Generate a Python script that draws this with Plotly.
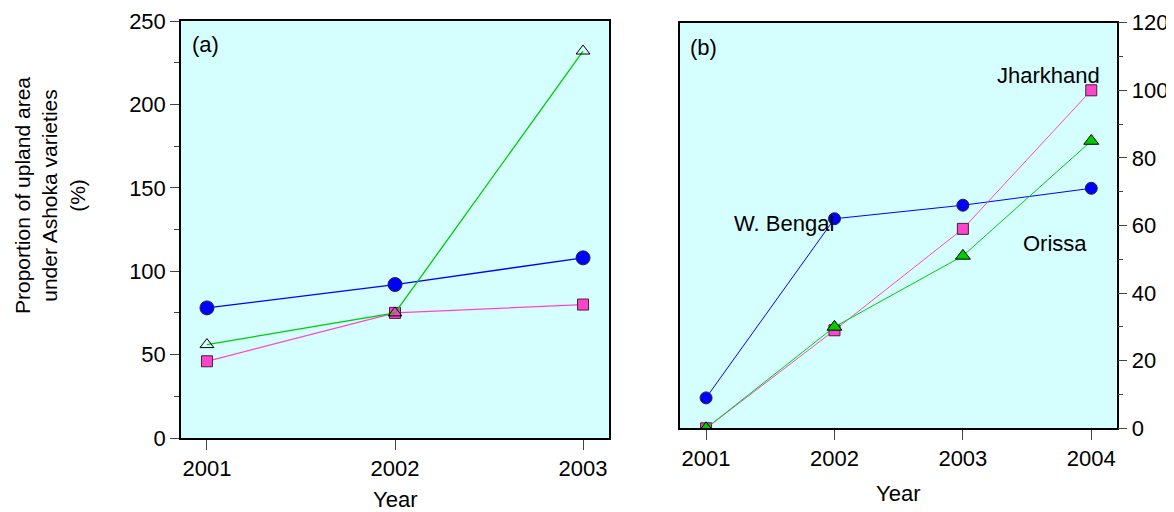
import plotly.graph_objects as go

# ---- data ----
years_a = [2001, 2002, 2003]
a_wbengal = [78, 92, 108]
a_jharkhand = [46, 75, 80]
a_orissa = [56, 75, 232]

years_b = [2001, 2002, 2003, 2004]
b_wbengal = [9, 62, 66, 71]
b_jharkhand = [0, 29, 59, 100]
b_orissa = [0, 30, 51, 85]

# page has an 8px body margin: figure sits at (8, 8)
OFF = 8
W, H = 1174 - OFF, 512 - OFF
FONT = "Liberation Sans, Arial, sans-serif"
BLUE = "#0000FF"
PINK = "#FF44CC"
GREEN = "#00CC00"
BG = "#D5FFFF"

def px_x(v):
    return (v - OFF) / W

def px_y(v):
    return 1 - (v - OFF) / H

fig = go.Figure()

# panel (a)
fig.add_trace(go.Scatter(x=years_a, y=a_wbengal, mode="lines+markers", xaxis="x", yaxis="y",
                         line=dict(color=BLUE, width=1.3),
                         marker=dict(symbol="circle", size=14, color=BLUE, line=dict(color="#222244", width=1))))
fig.add_trace(go.Scatter(x=years_a, y=a_jharkhand, mode="lines+markers", xaxis="x", yaxis="y",
                         line=dict(color=PINK, width=1.3),
                         marker=dict(symbol="square", size=11, color=PINK, line=dict(color="#442233", width=1))))
fig.add_trace(go.Scatter(x=years_a, y=a_orissa, mode="lines+markers", xaxis="x", yaxis="y",
                         line=dict(color=GREEN, width=1.3),
                         marker=dict(symbol="triangle-up-open", size=12, color="black", line=dict(color="black", width=1))))

# panel (b)
fig.add_trace(go.Scatter(x=years_b, y=b_wbengal, mode="lines+markers", xaxis="x2", yaxis="y2",
                         line=dict(color=BLUE, width=1),
                         marker=dict(symbol="circle", size=12, color=BLUE, line=dict(color="#222244", width=1))))
fig.add_trace(go.Scatter(x=years_b, y=b_jharkhand, mode="lines+markers", xaxis="x2", yaxis="y2",
                         line=dict(color=PINK, width=1),
                         marker=dict(symbol="square", size=11, color=PINK, line=dict(color="#442233", width=1))))
fig.add_trace(go.Scatter(x=years_b, y=b_orissa, mode="lines+markers", xaxis="x2", yaxis="y2",
                         line=dict(color=GREEN, width=1),
                         marker=dict(symbol="triangle-up", size=13, color=GREEN, line=dict(color="black", width=1))))

tickfont = dict(family=FONT, size=22, color="black")

common = dict(showline=True, linecolor="black", linewidth=1.5, mirror=True,
              showgrid=False, zeroline=False, tickfont=tickfont, automargin=False,
              ticks="outside", tickcolor="#444")

fig.update_layout(
    width=W, height=H,
    margin=dict(l=0, r=0, t=0, b=0, autoexpand=False),
    paper_bgcolor="white",
    plot_bgcolor=BG,
    showlegend=False,
    font=dict(family=FONT, size=22, color="black"),
    xaxis=dict(domain=[px_x(181), px_x(609)], range=[2000.862, 2003.138],
               tickvals=years_a, ticklen=10, anchor="y", **common),
    yaxis=dict(domain=[px_y(438), px_y(21)], range=[0, 250], dtick=50, ticklen=9,
               minor=dict(dtick=25, ticks="outside", ticklen=5, tickcolor="#444"),
               anchor="x", **common),
    xaxis2=dict(domain=[px_x(680), px_x(1116.7)], range=[2000.797, 2004.198],
                tickvals=years_b, ticklen=10, anchor="y2", **common),
    yaxis2=dict(domain=[px_y(428.3), px_y(22.7)], range=[0, 120], dtick=20, side="right",
                ticklen=9,
                minor=dict(dtick=10, ticks="outside", ticklen=5, tickcolor="#444"),
                anchor="x2", **common),
)

ann = [
    dict(text="(a)", x=190, y=45, xanchor="left"),
    dict(text="(b)", x=688, y=48, xanchor="left"),
    dict(text="Jharkhand", x=1102, y=76, xanchor="right"),
    dict(text="W. Bengal", x=732, y=223, xanchor="left"),
    dict(text="Orissa", x=1055, y=243, xanchor="center"),
    dict(text="Year", x=395, y=499, xanchor="center"),
    dict(text="Year", x=898, y=493, xanchor="center"),
]
for a in ann:
    fig.add_annotation(text=a["text"], xref="paper", yref="paper",
                       x=px_x(a["x"]), y=px_y(a["y"]), xanchor=a["xanchor"], yanchor="middle",
                       showarrow=False, font=dict(family=FONT, size=a.get("size", 22), color="black"))

fig.add_annotation(text="Proportion of upland area<br>under Ashoka varieties<br>(%)",
                   xref="paper", yref="paper", x=px_x(50), y=px_y(196),
                   xanchor="center", yanchor="middle", textangle=-90, showarrow=False,
                   font=dict(family=FONT, size=21, color="black"))

fig.write_html("out.html")
